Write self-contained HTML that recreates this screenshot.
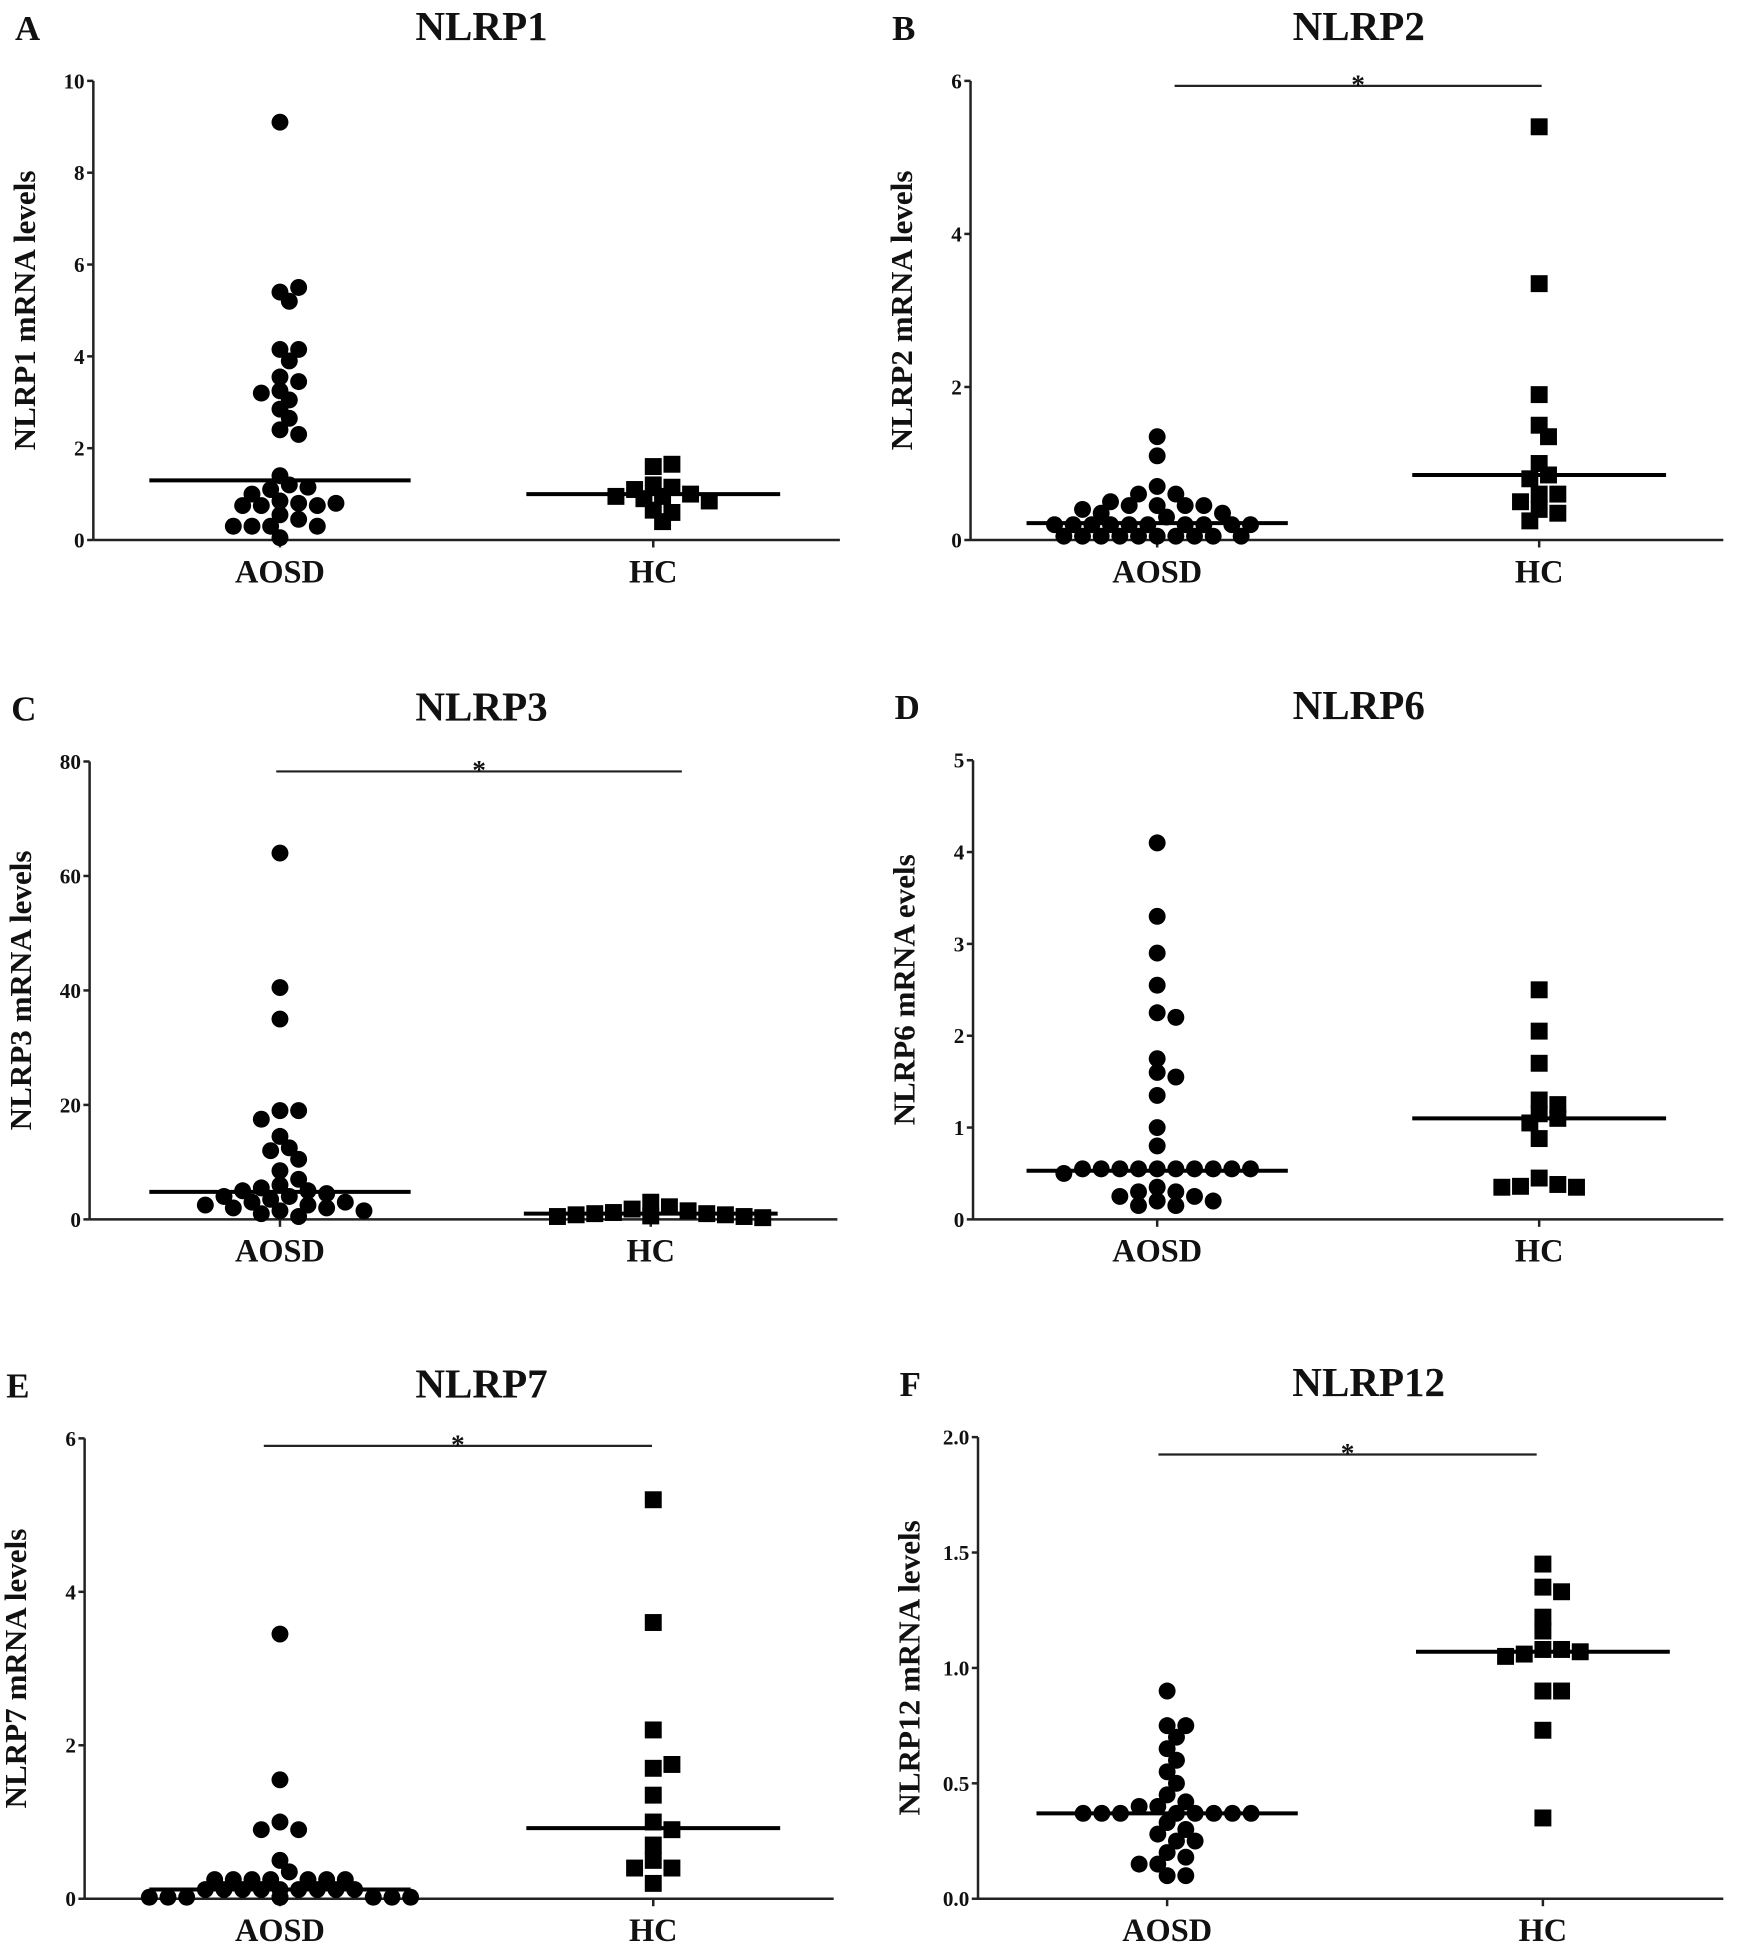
<!DOCTYPE html>
<html><head><meta charset="utf-8"><style>
html,body{margin:0;padding:0;background:#fff}
svg{display:block}
text{font-family:"Liberation Serif",serif;font-weight:bold;fill:#111}
</style></head><body>
<svg id="fig" width="1742" height="1951" viewBox="0 0 1400 1568" xmlns="http://www.w3.org/2000/svg"></svg>
<script>
const groups = ["AOSD","HC"];
const aA = [9.1,5.4,5.5,5.2,4.15,4.15,3.9,3.55,3.45,3.25,3.2,3.05,2.85,2.65,2.4,2.3,1.4,1.2,1.1,1.15,1.0,0.85,0.8,0.75,0.75,0.75,0.8,0.55,0.45,0.3,0.3,0.3,0.3,0.05];
const hA = [1.6,1.65,1.2,1.15,1.1,0.95,1.0,0.95,0.9,0.85,0.65,0.6,0.4];
const aB = [1.35,1.1,0.7,0.6,0.6,0.45,0.45,0.45,0.45,0.5,0.35,0.35,0.4,0.3,0.2,0.2,0.2,0.2,0.2,0.2,0.2,0.2,0.2,0.2,0.05,0.05,0.05,0.05,0.05,0.05,0.05,0.05,0.05,0.05];
const hB = [5.4,3.35,1.9,1.5,1.35,1.0,0.85,0.8,0.6,0.6,0.5,0.4,0.35,0.25];
const aC = [64,40.5,35,19,19,17.5,14.5,12.5,12,10.5,8.5,7,6,5.5,5,5,4.5,4,4,3.5,3,3,2.5,2.5,2,2,1.5,1.5,1,0.5];
const hC = [3,2.2,1.8,1.5,1.2,1.0,1,0.8,0.8,0.6,0.5,0.5,0.3];
const aD = [4.1,3.3,2.9,2.55,2.25,2.2,1.75,1.6,1.55,1.35,1.0,0.8,0.55,0.55,0.55,0.55,0.55,0.55,0.55,0.55,0.55,0.55,0.5,0.35,0.3,0.3,0.25,0.25,0.2,0.2,0.15,0.15];
const hD = [2.5,2.05,1.7,1.3,1.25,1.15,1.1,1.05,0.88,0.45,0.38,0.36,0.35,0.35];
const aE = [3.45,1.55,1.0,0.9,0.9,0.5,0.35,0.25,0.25,0.25,0.25,0.25,0.25,0.25,0.12,0.12,0.12,0.12,0.12,0.12,0.12,0.12,0.12,0.02,0.02,0.02,0.02,0.02,0.02,0.02,0.02,0.02,0.02,0.02];
const hE = [5.2,3.6,2.2,1.7,1.75,1.35,1.0,0.9,0.7,0.5,0.4,0.4,0.2];
const aF = [0.9,0.75,0.75,0.7,0.65,0.6,0.55,0.5,0.45,0.42,0.4,0.4,0.37,0.37,0.37,0.37,0.37,0.37,0.37,0.37,0.33,0.3,0.28,0.25,0.25,0.2,0.18,0.15,0.15,0.1,0.1];
const hF = [1.45,1.35,1.33,1.22,1.16,1.08,1.08,1.06,1.07,1.05,0.9,0.9,0.73,0.35];
const medians = [[1.3,1.0],[0.22,0.85],[4.8,1.0],[0.53,1.1],[0.12,0.92],[0.37,1.07]];
const yTicks = [[0,2,4,6,8,10],[0,2,4,6],[0,20,40,60,80],[0,1,2,3,4,5],[0,2,4,6],["0.0","0.5","1.0","1.5","2.0"]];
const titles = ["NLRP1","NLRP2","NLRP3","NLRP6","NLRP7","NLRP12"];
const letters = ["A","B","C","D","E","F"];
const yLabels = ["NLRP1 mRNA levels","NLRP2 mRNA levels","NLRP3 mRNA levels","NLRP6 mRNA evels","NLRP7 mRNA levels","NLRP12 mRNA levels"];
const sig = [false,true,true,false,true,true];

const layout = [
 {ax:75,top:65,bot:434,end:675,c:[225,525],sx:[0,0],sy:0},
 {ax:780,top:65,bot:434,end:1385,c:[930,1237],sx:[944,1239],sy:69},
 {ax:72,top:612,bot:980,end:673,c:[225,523],sx:[222,548],sy:620},
 {ax:782,top:611,bot:980,end:1385,c:[930,1237],sx:[0,0],sy:0},
 {ax:68,top:1156,bot:1526,end:670,c:[225,525],sx:[212,524],sy:1162},
 {ax:786,top:1155,bot:1526,end:1385,c:[938,1240],sx:[931,1235],sy:1169}
];
const data = [[aA,hA],[aB,hB],[aC,hC],[aD,hD],[aE,hE],[aF,hF]];
const svg = document.getElementById('fig');
const NS = "http://www.w3.org/2000/svg";
function mk(tag, attrs, parent){const e=document.createElementNS(NS,tag);for(const k in attrs)e.setAttribute(k,attrs[k]);(parent||svg).appendChild(e);return e;}

layout.forEach((L,p)=>{
  const g = mk('g',{});
  
  
  const ticks = yTicks[p];
  const ymax = parseFloat(ticks[ticks.length-1]);
  const y = v => L.bot - (v/ymax)*(L.bot-L.top);
  let t = mk('text',{x:L.ax-63,y:L.top-33,'font-size':28},g); t.textContent=letters[p];
   
  t = mk('text',{x:L.c[0]+162,y:L.top-33,'font-size':33,'text-anchor':'middle'},g); t.textContent=titles[p];
   
  const ylx = L.ax-47, yly=(L.top+L.bot)/2;
  t = mk('text',{x:ylx,y:yly,'font-size':25,'text-anchor':'middle',transform:`rotate(-90 ${ylx} ${yly})`},g); t.textContent=yLabels[p];
   
  let ln = mk('line',{x1:L.ax,y1:L.top,x2:L.ax,y2:L.bot,stroke:'#222','stroke-width':2},g);
   
  ln = mk('line',{x1:L.ax,y1:L.bot,x2:L.end,y2:L.bot,stroke:'#222','stroke-width':2},g);
   
  ticks.forEach(tv=>{
    const yy=y(parseFloat(tv));
    mk('line',{x1:L.ax-5,y1:yy,x2:L.ax,y2:yy,stroke:'#222','stroke-width':2},g);
    const tt=mk('text',{x:L.ax-7,y:yy+6,'font-size':17,'text-anchor':'end'},g); tt.textContent=tv;
     
  });
  groups.forEach((gn,gi)=>{
    const cx=L.c[gi];
    mk('line',{x1:cx,y1:L.bot,x2:cx,y2:L.bot+6,stroke:'#222','stroke-width':2},g);
    const tt=mk('text',{x:cx,y:L.bot+34,'font-size':26,'text-anchor':'middle'},g); tt.textContent=gn;
     
    const vals=data[p][gi]; const placed=[]; const d=10.5;
    vals.forEach(v=>{
      const py=y(v); let px=null;
      for(let k=0;k<30;k++){
        const off = k===0?0:(k%2?1:-1)*Math.ceil(k/2)*7.5;
        const tx=cx+off;
        if(placed.every(q=>Math.hypot(q[0]-tx,q[1]-py)>=d)){px=tx;break;}
      }
      if(px===null) px=cx;
      placed.push([px,py]);
      let m;
      if(gi===0){m=mk('circle',{cx:px,cy:py,r:6.8,fill:'#000'},g);}
      else{m=mk('rect',{x:px-6.8,y:py-6.8,width:13.6,height:13.6,fill:'#000'},g);}
      
      
    });
    const my=y(medians[p][gi]);
    const hl=gi===0?105:102;
    const ml=mk('line',{x1:cx-hl,y1:my,x2:cx+hl,y2:my,stroke:'#000','stroke-width':3.2},g);
     
  });
  if(sig[p]){
    const sl=mk('line',{x1:L.sx[0],y1:L.sy,x2:L.sx[1],y2:L.sy,stroke:'#222','stroke-width':1.8},g);
     
    const st=mk('text',{x:(L.sx[0]+L.sx[1])/2,y:L.sy+6,'font-size':22,'text-anchor':'middle'},g); st.textContent='*';
     
  }
});
</script>
</body></html>
